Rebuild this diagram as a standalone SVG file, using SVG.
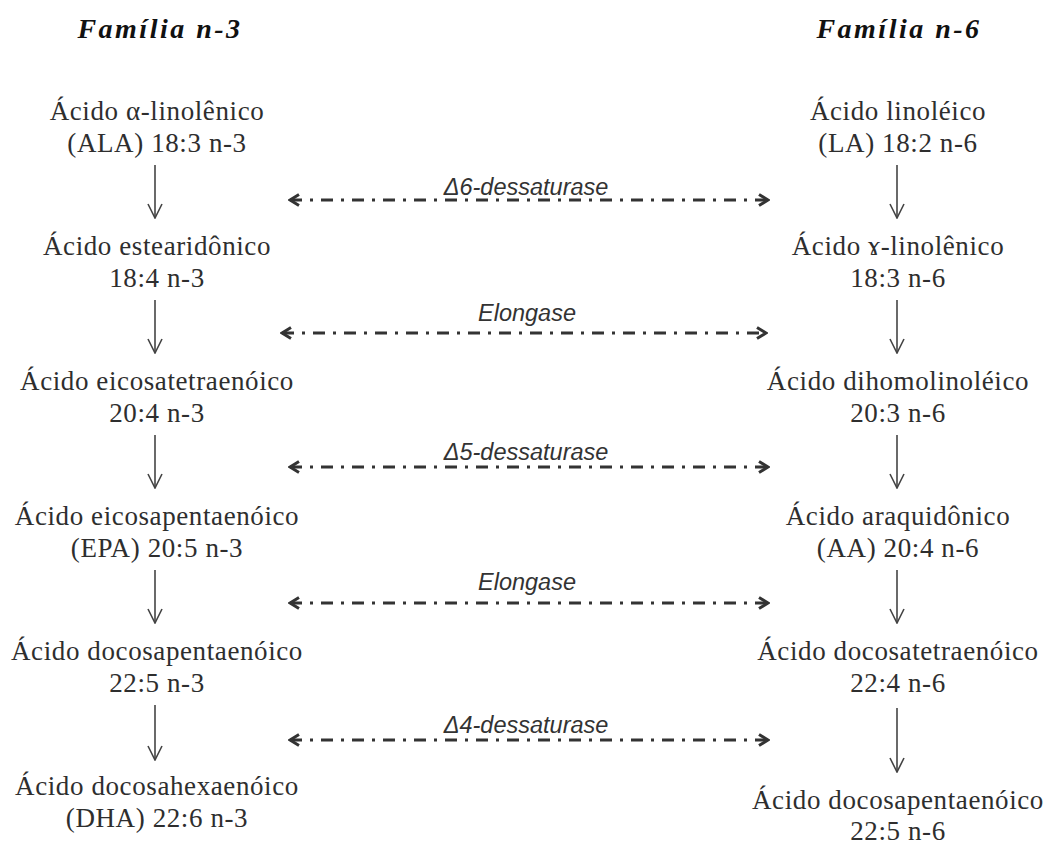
<svg xmlns="http://www.w3.org/2000/svg" width="1049" height="844" viewBox="0 0 1049 844">
<defs>
<style>
.t{font-family:"Liberation Serif","Times New Roman",serif;font-size:27px;letter-spacing:0.6px;fill:#2e2e2e;text-anchor:middle}
.h{font-family:"Liberation Serif","Times New Roman",serif;font-size:28px;letter-spacing:2.5px;font-weight:bold;font-style:italic;fill:#111;text-anchor:middle}
.e{font-family:"Liberation Sans",Arial,sans-serif;font-size:23.5px;font-style:italic;fill:#333;text-anchor:middle}
.down{stroke:#444;stroke-width:1.6;fill:none;marker-end:url(#vh)}
.dd{stroke:#333;stroke-width:3;fill:none;stroke-dasharray:12 8 3 8;marker-start:url(#ah);marker-end:url(#ah)}
</style>
<marker id="vh" viewBox="0 0 16 16" refX="15" refY="8" markerWidth="16" markerHeight="16" markerUnits="userSpaceOnUse" orient="auto-start-reverse">
<path d="M1,1 L15,8 L1,15" fill="none" stroke="#444" stroke-width="1.6"/>
</marker>
<marker id="ah" viewBox="0 0 14 14" refX="12" refY="7" markerWidth="14" markerHeight="14" markerUnits="userSpaceOnUse" orient="auto-start-reverse">
<path d="M3,1.5 L12,7 L3,12.5" fill="none" stroke="#333" stroke-width="3"/>
</marker>
</defs>
<rect width="1049" height="844" fill="#fff"/>
<g id="title-n3"><text class="h" x="160" y="38">Família  n-3</text></g>
<g id="title-n6"><text class="h" x="899" y="38">Família n-6</text></g>

<g id="ala"><text class="t" x="157" y="120">Ácido α-linolênico</text><text class="t" x="157" y="152">(ALA) 18:3 n-3</text></g>
<g id="sda"><text class="t" x="157" y="255">Ácido estearidônico</text><text class="t" x="157" y="287">18:4 n-3</text></g>
<g id="eta"><text class="t" x="157" y="390">Ácido eicosatetraenóico</text><text class="t" x="157" y="422">20:4 n-3</text></g>
<g id="epa"><text class="t" x="157" y="525">Ácido eicosapentaenóico</text><text class="t" x="157" y="557">(EPA) 20:5 n-3</text></g>
<g id="dpa3"><text class="t" x="157" y="660">Ácido docosapentaenóico</text><text class="t" x="157" y="692">22:5 n-3</text></g>
<g id="dha"><text class="t" x="157" y="795">Ácido docosahexaenóico</text><text class="t" x="157" y="827">(DHA) 22:6 n-3</text></g>

<g id="la"><text class="t" x="898" y="120">Ácido linoléico</text><text class="t" x="898" y="152">(LA) 18:2 n-6</text></g>
<g id="gla"><text class="t" x="898" y="255">Ácido ɤ-linolênico</text><text class="t" x="898" y="287">18:3 n-6</text></g>
<g id="dgla"><text class="t" x="898" y="390">Ácido dihomolinoléico</text><text class="t" x="898" y="422">20:3 n-6</text></g>
<g id="aa"><text class="t" x="898" y="525">Ácido araquidônico</text><text class="t" x="898" y="557">(AA) 20:4 n-6</text></g>
<g id="dta"><text class="t" x="898" y="660">Ácido docosatetraenóico</text><text class="t" x="898" y="692">22:4 n-6</text></g>
<g id="dpa6"><text class="t" x="898" y="809">Ácido docosapentaenóico</text><text class="t" x="898" y="840">22:5 n-6</text></g>

<g id="connectors">
<line class="down" x1="155" y1="165" x2="155" y2="218"/>
<line class="down" x1="155" y1="300" x2="155" y2="353"/>
<line class="down" x1="155" y1="435" x2="155" y2="488"/>
<line class="down" x1="155" y1="570" x2="155" y2="623"/>
<line class="down" x1="155" y1="705" x2="155" y2="760"/>
<line class="down" x1="897" y1="165" x2="897" y2="218"/>
<line class="down" x1="897" y1="300" x2="897" y2="353"/>
<line class="down" x1="897" y1="435" x2="897" y2="488"/>
<line class="down" x1="897" y1="570" x2="897" y2="623"/>
<line class="down" x1="897" y1="708" x2="897" y2="772"/>

<line class="dd" x1="290" y1="200" x2="768" y2="200"/>
<line class="dd" x1="282" y1="333" x2="766" y2="333"/>
<line class="dd" x1="290" y1="467" x2="768" y2="467"/>
<line class="dd" x1="290" y1="603" x2="768" y2="603"/>
<line class="dd" x1="290" y1="740" x2="768" y2="740"/>
<text class="e" x="526" y="195">Δ6-dessaturase</text>
<text class="e" x="527" y="321">Elongase</text>
<text class="e" x="526" y="460">Δ5-dessaturase</text>
<text class="e" x="527" y="590">Elongase</text>
<text class="e" x="526" y="733">Δ4-dessaturase</text>
</g>
</svg>
